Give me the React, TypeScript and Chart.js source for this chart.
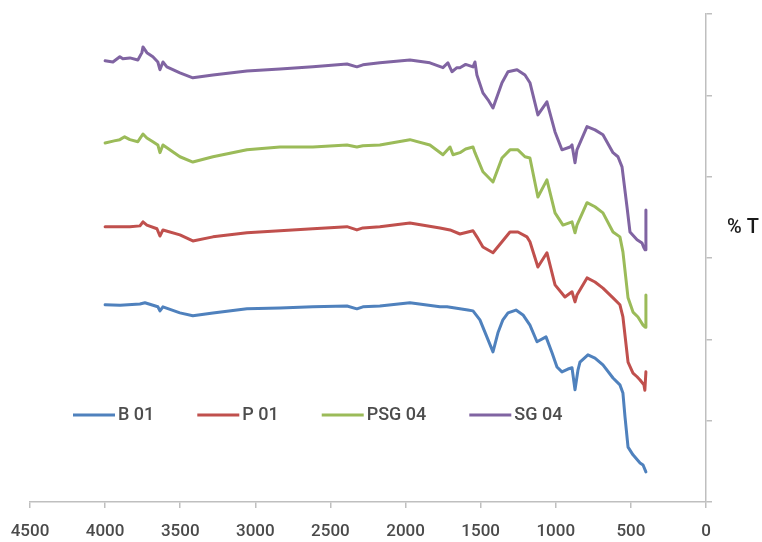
import React, { useEffect, useRef } from "react";
import { Chart, registerables } from "chart.js";

Chart.register(...registerables);

const FONT = "'Liberation Sans Narrow', Roboto, 'Liberation Sans', sans-serif";

const SERIES_NAMES = ["B 01", "P 01", "PSG 04", "SG 04"];
const SERIES_COLORS = ["#4F81BD", "#C0504D", "#9BBB59", "#8064A2"];
const Y_TITLE = "% T";

// [wavenumber (cm-1), %T]
const B01: [number, number][] = [
  [4000, 48.5], [3900, 48.4], [3768, 48.7], [3735, 49.0], [3649, 48.0], [3635, 47.0], [3615, 48.0],
  [3502, 46.5], [3416, 45.8], [3282, 46.5], [3056, 47.5], [2836, 47.7], [2617, 48.0],
  [2390, 48.2], [2324, 47.5], [2284, 48.0], [2171, 48.2], [1971, 49.0], [1771, 48.0],
  [1724, 48.0], [1585, 47.2], [1551, 47.0], [1505, 44.8], [1418, 36.9], [1385, 41.6],
  [1352, 44.8], [1318, 46.5], [1265, 47.2], [1218, 46.0], [1172, 43.5], [1125, 39.4],
  [1065, 40.6], [1025, 36.7], [992, 33.2], [959, 32.0], [919, 32.7], [892, 33.0],
  [872, 27.6], [852, 32.5], [839, 34.4], [786, 36.2], [739, 35.4], [686, 33.7],
  [619, 30.5], [573, 28.8], [553, 26.8], [539, 20.9], [519, 13.5], [486, 11.6],
  [439, 9.6], [419, 9.1], [400, 7.4],
];

const P01: [number, number][] = [
  [4000, 67.7], [3835, 67.7], [3768, 67.9], [3748, 68.9], [3722, 68.1], [3655, 67.2],
  [3635, 65.4], [3615, 66.9], [3502, 65.7], [3416, 64.2], [3282, 65.2], [3056, 66.2],
  [2836, 66.7], [2617, 67.2], [2390, 67.7], [2324, 66.9], [2284, 67.4], [2171, 67.7],
  [1971, 68.6], [1771, 67.4], [1704, 66.9], [1638, 65.9], [1551, 66.7], [1525, 65.2],
  [1485, 62.7], [1418, 61.3], [1358, 64.0], [1305, 66.4], [1252, 66.4], [1192, 65.2],
  [1172, 64.0], [1119, 57.8], [1059, 61.3], [1005, 53.4], [939, 50.4], [892, 51.7],
  [872, 49.2], [859, 50.9], [792, 55.1], [739, 54.1], [686, 52.6], [619, 50.2],
  [573, 48.5], [553, 45.5], [519, 34.4], [486, 31.7], [459, 30.8], [439, 30.0],
  [413, 28.8], [407, 27.5], [400, 32.0],
];

const PSG04: [number, number][] = [
  [4000, 88.3], [3940, 88.8], [3902, 89.1], [3870, 89.8], [3835, 89.1], [3782, 88.6],
  [3748, 90.5], [3722, 89.5], [3682, 88.6], [3649, 87.8], [3635, 85.9], [3615, 87.8],
  [3502, 84.9], [3416, 83.6], [3282, 84.9], [3056, 86.6], [2836, 87.3], [2617, 87.3],
  [2390, 87.8], [2324, 87.3], [2284, 87.6], [2171, 87.8], [1971, 89.1], [1838, 87.8],
  [1751, 85.4], [1704, 87.3], [1684, 85.4], [1638, 85.9], [1600, 86.8], [1551, 87.3],
  [1538, 85.9], [1485, 81.2], [1418, 78.7], [1358, 84.6], [1305, 86.6], [1252, 86.6],
  [1205, 84.9], [1172, 84.6], [1119, 75.0], [1059, 79.2], [1005, 71.1], [952, 68.1],
  [892, 68.9], [872, 66.2], [859, 68.1], [792, 73.6], [739, 72.6], [686, 71.1],
  [619, 66.4], [573, 65.2], [553, 61.5], [519, 50.2], [486, 46.7], [453, 45.5],
  [419, 43.5], [405, 43.0], [400, 50.9],
];

const SG04: [number, number][] = [
  [4000, 108.5], [3948, 108.2], [3902, 109.5], [3882, 109.0], [3835, 109.2], [3782, 108.7],
  [3755, 110.5], [3748, 111.9], [3722, 110.5], [3682, 109.5], [3649, 108.2], [3635, 106.3],
  [3615, 108.2], [3589, 107.0], [3502, 105.5], [3416, 104.3], [3282, 105.0], [3056, 106.0],
  [2836, 106.5], [2617, 107.0], [2390, 107.7], [2324, 107.0], [2284, 107.5], [2171, 108.0],
  [1971, 108.7], [1838, 108.0], [1751, 106.8], [1718, 108.0], [1691, 105.8], [1658, 106.8],
  [1638, 106.8], [1600, 107.6], [1551, 107.0], [1538, 108.2], [1525, 105.0], [1485, 100.6],
  [1451, 98.9], [1418, 96.9], [1358, 103.1], [1318, 105.8], [1258, 106.3], [1205, 105.0],
  [1172, 103.1], [1119, 95.2], [1059, 98.4], [1005, 91.0], [959, 86.6], [905, 87.3],
  [892, 87.8], [872, 83.4], [859, 86.6], [792, 92.3], [739, 91.5], [686, 90.3],
  [619, 85.9], [586, 84.9], [559, 82.4], [526, 72.6], [506, 66.4], [459, 64.5],
  [426, 63.7], [413, 62.5], [405, 62.0], [400, 71.8],
];

const SERIES = [B01, P01, PSG04, SG04];

const overlayPlugin = {
  id: "overlay",
  afterDraw(chart: any) {
    const ctx = chart.ctx as CanvasRenderingContext2D;
    const area = chart.chartArea;
    ctx.save();
    // legend inside plot area
    ctx.font = `500 18px ${FONT}`;
    ctx.textBaseline = "middle";
    ctx.textAlign = "left";
    const legendY = 415;
    let x = area.left + 43;
    chart.data.datasets.forEach((ds: any) => {
      ctx.strokeStyle = ds.borderColor;
      ctx.lineWidth = 3;
      ctx.beginPath();
      ctx.moveTo(x, legendY);
      ctx.lineTo(x + 42, legendY);
      ctx.stroke();
      ctx.fillStyle = "#4d4d4d";
      ctx.fillText(ds.label, x + 45, legendY);
      x += 45 + ctx.measureText(ds.label).width + 43;
    });
    // y-axis title, horizontal, right of the axis
    ctx.font = `500 20px ${FONT}`;
    ctx.fillStyle = "#1a1a1a";
    ctx.fillText(Y_TITLE, area.right + 21, 228);
    ctx.restore();
  },
};

export default function App() {
  const ref = useRef<HTMLCanvasElement>(null);
  useEffect(() => {
    if (!ref.current) return;
    const chart = new Chart(ref.current, {
      type: "line",
      data: {
        datasets: SERIES.map((s, i) => ({
          label: SERIES_NAMES[i],
          data: s.map(([x, y]) => ({ x, y })),
          borderColor: SERIES_COLORS[i],
          backgroundColor: SERIES_COLORS[i],
          borderWidth: 3,
          pointRadius: 0,
          tension: 0,
          borderJoinStyle: "round" as const,
          borderCapStyle: "round" as const,
        })),
      },
      options: {
        responsive: false,
        animation: false,
        layout: { padding: { left: 30, top: 14, right: 0, bottom: 0 } },
        plugins: { legend: { display: false }, tooltip: { enabled: false } },
        scales: {
          x: {
            type: "linear",
            reverse: true,
            min: 0,
            max: 4500,
            ticks: {
              stepSize: 500,
              color: "#4a4a4a",
              font: { family: FONT, size: 17, weight: 500 as any },
              padding: 14,
              maxRotation: 0,
              callback: (v: any) => String(v),
            },
            grid: {
              display: true,
              drawOnChartArea: false,
              drawTicks: true,
              tickLength: 6,
              color: "#bfbfbf",
              lineWidth: 1.5,
            },
            border: { display: true, color: "#bfbfbf", width: 1.5 },
            afterFit: (s: any) => {
              s.height = 40;
              s.paddingLeft = 0;
              s.paddingRight = 0;
            },
          },
          y: {
            type: "linear",
            position: "right",
            min: 0,
            max: 120,
            ticks: { stepSize: 20, display: false },
            grid: {
              display: true,
              drawOnChartArea: false,
              drawTicks: true,
              tickLength: 6,
              color: "#bfbfbf",
              lineWidth: 1.5,
            },
            border: { display: true, color: "#bfbfbf", width: 1.5 },
            afterFit: (s: any) => {
              s.width = 56;
            },
          },
        },
      },
      plugins: [overlayPlugin],
    });
    return () => chart.destroy();
  }, []);
  return (
    <div style={{ position: "fixed", left: 0, top: 0, width: 762, height: 542, background: "#fff" }}>
      <canvas ref={ref} width={762} height={542} />
    </div>
  );
}
